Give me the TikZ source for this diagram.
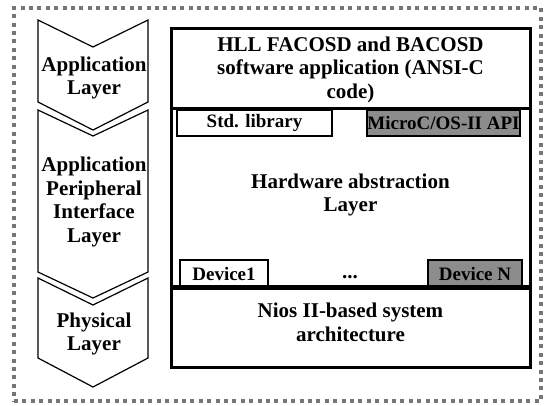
\documentclass[tikz,border=0pt]{standalone}
\usepackage{fontspec}
\setmainfont{Liberation Serif}
\usetikzlibrary{positioning}
\definecolor{grismarco}{HTML}{767676}
\definecolor{grisrelleno}{HTML}{8C8C8C}

\begin{document}
\begin{tikzpicture}[x=1pt, y=-1pt,
  font=\fontsize{21}{23.5}\selectfont\bfseries,
  marco/.style={draw=grismarco, line width=3.6pt, dash pattern=on 4pt off 4.4pt, inner sep=0pt},
  capa/.style={draw=black, line width=1.2pt, line join=miter},
  bloque/.style={draw=black, line width=3pt, inner sep=0pt},
  modulo/.style={draw=black, line width=1.2pt, inner sep=0pt, fill=white, font=\fontsize{19}{21}\selectfont\bfseries},
  oscuro/.style={modulo, fill=grisrelleno},
  texto/.style={align=center, inner sep=0pt}]
\useasboundingbox (0,0) rectangle (547,405);
\node[marco, minimum width=527pt, minimum height=393pt] (borde) at (277.5,204.5) {};
% capas de la izquierda
\draw[capa] (38,20) -- (93,47) -- (148,20) -- (148,102) -- (93,130) -- (38,102) -- cycle;
\draw[capa] (38,110) -- (93,136) -- (148,110) -- (148,272) -- (93,298) -- (38,272) -- cycle;
\draw[capa] (38,278) -- (93,305) -- (148,278) -- (148,358) -- (93,387) -- (38,358) -- cycle;
\node[texto] (aplic) at (94,78) {Application\\Layer};
\node[texto] (api) at (94,202) {Application\\Peripheral\\Interface\\Layer};
\node[texto] (fisica) at (94,334) {Physical\\Layer};
% pila de la derecha
\node[bloque, minimum width=359pt, minimum height=80pt] (app) at (350.5,68) {};
\node[bloque, minimum width=359pt, minimum height=180pt] (hal) at (350.5,198) {};
\node[bloque, minimum width=359pt, minimum height=79pt] (nios) at (350.5,327.5) {};
\node[texto] (apptxt) at ([yshift=-1.5pt]app.center) {HLL FACOSD and BACOSD\\software application (ANSI-C\\code)};
\node[texto] (haltxt) at ([yshift=3pt]hal.center) {Hardware abstraction\\Layer};
\node[texto] (niostxt) at ([yshift=5pt]nios.center) {Nios II-based system\\architecture};
\node[modulo, minimum width=155pt, minimum height=26pt] (std) at (254.5,123) {Std. library};
\node[oscuro, minimum width=153pt, minimum height=26pt] (ucos) at (443.5,123) {MicroC/OS-II API};
\node[modulo, minimum width=88pt, minimum height=28pt] (dev1) at (224,274) {Device1};
\node[oscuro, minimum width=94pt, minimum height=28pt] (devn) at (475,274) {Device N};
\node[texto] (puntos) at (350,277) {...};
\draw[line width=3pt] (nios.north west) -- (nios.north east);
\end{tikzpicture}
\end{document}
